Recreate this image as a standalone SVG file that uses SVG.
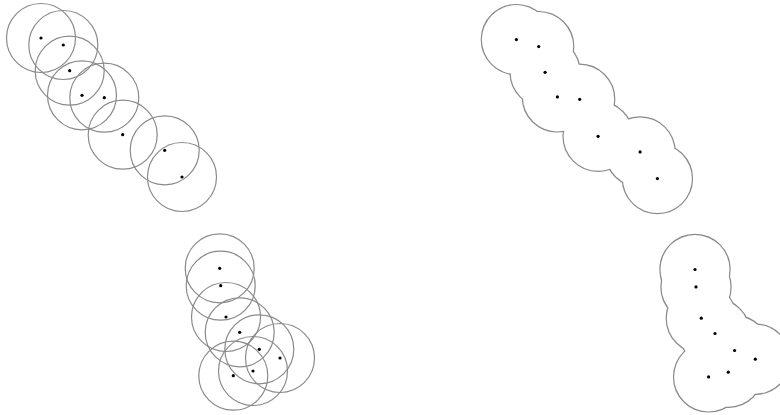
<svg xmlns="http://www.w3.org/2000/svg" xmlns:xlink="http://www.w3.org/1999/xlink" width="780" height="415" viewBox="0 0 780 415">
<style>
.ring{fill:none;stroke:#8a8a8a;stroke-width:1.2}
.hull{fill:none;stroke:#8a8a8a;stroke-width:2.4}
.cover{fill:#fff;stroke:none}
.pt{fill:#000}
</style>
<defs>
<g id="topCircles">
<circle cx="41" cy="38" r="34.5"/><circle cx="63.3" cy="45" r="34.5"/><circle cx="69.7" cy="70.7" r="34.5"/><circle cx="82" cy="95.3" r="34.5"/><circle cx="104.3" cy="97.7" r="34.5"/><circle cx="122.7" cy="134.7" r="34.5"/><circle cx="164.7" cy="150.3" r="34.5"/><circle cx="182" cy="177" r="34.5"/>
</g>
<g id="topPts">
<circle cx="41" cy="38" r="1.6"/><circle cx="63.3" cy="45" r="1.6"/><circle cx="69.7" cy="70.7" r="1.6"/><circle cx="82" cy="95.3" r="1.6"/><circle cx="104.3" cy="97.7" r="1.6"/><circle cx="122.7" cy="134.7" r="1.6"/><circle cx="164.7" cy="150.3" r="1.6"/><circle cx="182" cy="177" r="1.6"/>
</g>
<g id="botCircles">
<circle cx="219.7" cy="268.3" r="34.5"/><circle cx="220.7" cy="285.7" r="34.5"/><circle cx="226" cy="317" r="34.5"/><circle cx="239.7" cy="332.3" r="34.5"/><circle cx="259.3" cy="349.3" r="34.5"/><circle cx="280" cy="358" r="34.5"/><circle cx="253" cy="371" r="34.5"/><circle cx="233.3" cy="375.7" r="34.5"/>
</g>
<g id="botPts">
<circle cx="219.7" cy="268.3" r="1.6"/><circle cx="220.7" cy="285.7" r="1.6"/><circle cx="226" cy="317" r="1.6"/><circle cx="239.7" cy="332.3" r="1.6"/><circle cx="259.3" cy="349.3" r="1.6"/><circle cx="280" cy="358" r="1.6"/><circle cx="253" cy="371" r="1.6"/><circle cx="233.3" cy="375.7" r="1.6"/>
</g>
</defs>
<rect width="780" height="415" fill="#fff"/>
<g id="top-left-circles">
<use xlink:href="#topCircles" class="ring"/>
<use xlink:href="#topPts" class="pt"/>
</g>
<g id="bottom-left-circles">
<use xlink:href="#botCircles" class="ring"/>
<use xlink:href="#botPts" class="pt"/>
</g>
<g id="top-right-union" transform="translate(475.4,1.6)">
<use xlink:href="#topCircles" class="hull"/>
<use xlink:href="#topCircles" class="cover"/>
<use xlink:href="#topPts" class="pt"/>
</g>
<g id="bottom-right-union" transform="translate(475.3,1.2)">
<use xlink:href="#botCircles" class="hull"/>
<use xlink:href="#botCircles" class="cover"/>
<use xlink:href="#botPts" class="pt"/>
</g>
</svg>
